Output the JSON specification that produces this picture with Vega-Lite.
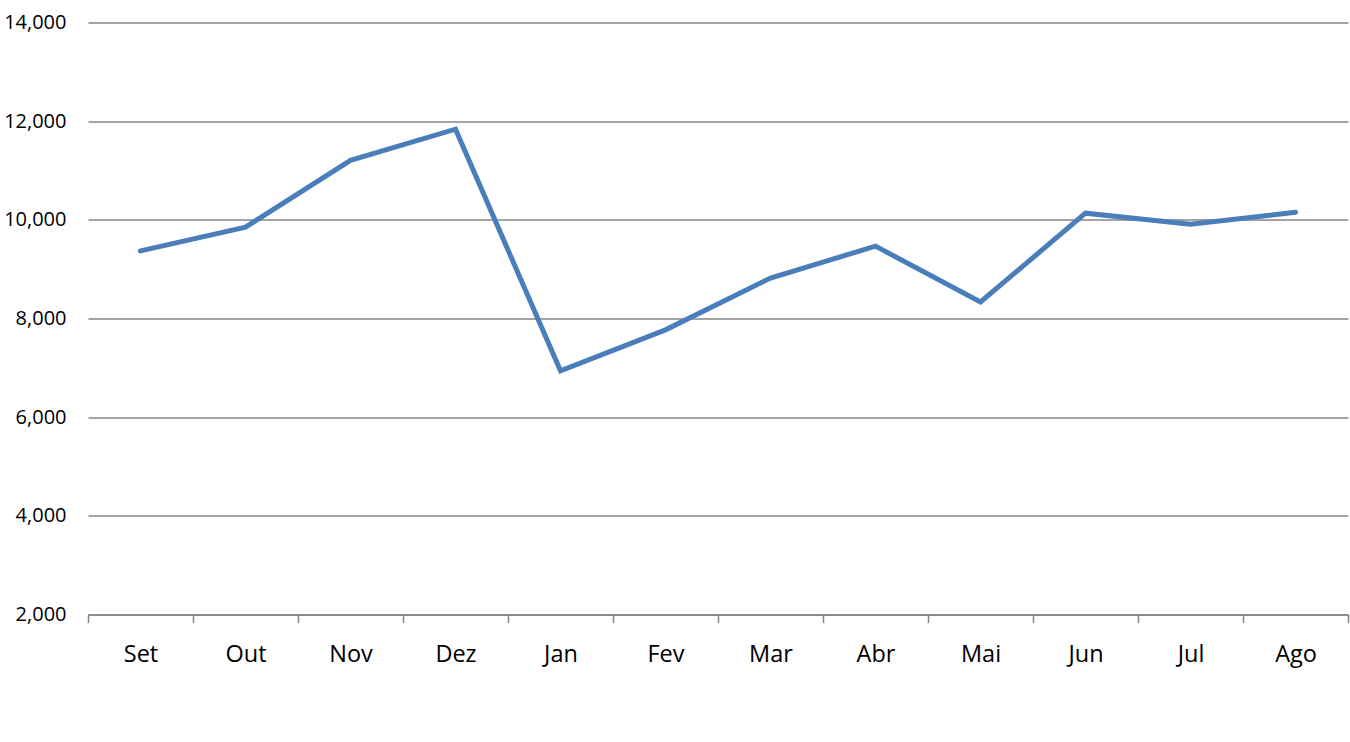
{
  "$schema": "https://vega.github.io/schema/vega-lite/v6.json",
  "width": 1260,
  "height": 592,
  "autosize": {"type": "none"},
  "padding": {"left": 88, "top": 22.5, "right": 2, "bottom": 127.5},
  "background": "white",
  "config": {"view": {"stroke": null}},
  "data": {
    "values": [
      {"mes": "Set", "valor": 9370},
      {"mes": "Out", "valor": 9850},
      {"mes": "Nov", "valor": 11205},
      {"mes": "Dez", "valor": 11838},
      {"mes": "Jan", "valor": 6940},
      {"mes": "Fev", "valor": 7770},
      {"mes": "Mar", "valor": 8820},
      {"mes": "Abr", "valor": 9467},
      {"mes": "Mai", "valor": 8334},
      {"mes": "Jun", "valor": 10135},
      {"mes": "Jul", "valor": 9910},
      {"mes": "Ago", "valor": 10154}
    ]
  },
  "mark": {"type": "line", "color": "#4a7ebb", "strokeWidth": 5, "strokeJoin": "miter", "strokeCap": "round"},
  "encoding": {
    "x": {
      "field": "mes",
      "type": "nominal",
      "sort": null,
      "scale": {"paddingInner": 0, "paddingOuter": 0},
      "axis": {
        "title": null,
        "labelAngle": 0,
        "labelFont": "Open Sans",
        "labelFontSize": 23.5,
        "labelColor": "#000000",
        "labelPadding": 20,
        "domainColor": "#868686",
        "domainWidth": 1.5,
        "tickColor": "#868686",
        "tickWidth": 1.5,
        "tickSize": 8,
        "tickBand": "extent",
        "grid": false
      }
    },
    "y": {
      "field": "valor",
      "type": "quantitative",
      "scale": {"domain": [2000, 14000], "nice": false, "zero": false},
      "axis": {
        "title": null,
        "values": [2000, 4000, 6000, 8000, 10000, 12000, 14000],
        "format": ",.0f",
        "domain": false,
        "ticks": false,
        "grid": true,
        "gridColor": "#868686",
        "gridWidth": 1.5,
        "labelFont": "Open Sans",
        "labelFontSize": 20,
        "labelColor": "#000000",
        "labelPadding": 22
      }
    }
  }
}
